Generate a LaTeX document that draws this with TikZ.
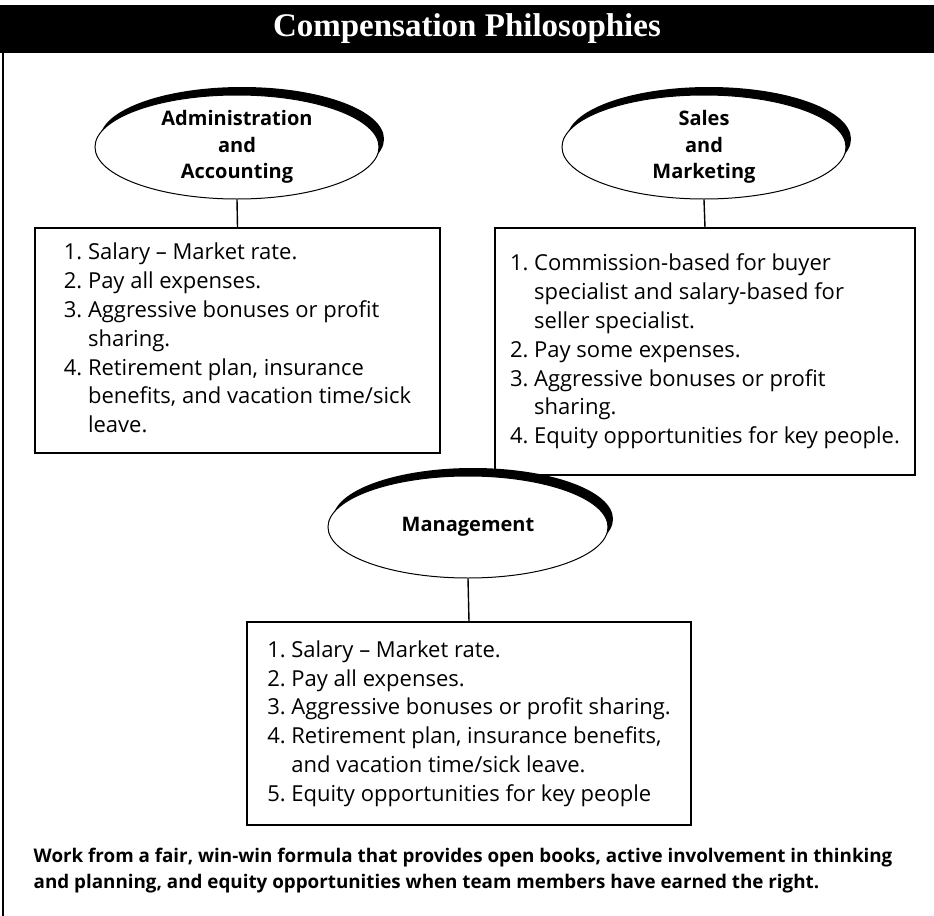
\documentclass[tikz,border=0pt]{standalone}
\usepackage{fontspec}
\setmainfont{Open Sans}
\newfontfamily\titlefont{Liberation Serif}
\usetikzlibrary{positioning, shapes.geometric, shadows}
\tikzset{
  every picture/.style={line width=0.7pt},
  oval/.style={ellipse, draw, line width=0.5pt, fill=white, minimum width=142pt, minimum height=52pt,
    inner sep=0pt, align=center, font=\fontsize{10}{13.3}\selectfont\bfseries,
    drop shadow={shadow xshift=2.5pt, shadow yshift=4pt, fill=black, opacity=1}},
  listbox/.style={draw, line width=0.7pt, inner sep=0pt, font=\fontsize{11}{14.4}\selectfont},
  heading/.style={font=\titlefont\fontsize{16.5}{18}\selectfont\bfseries, text=white},
  note/.style={font=\fontsize{9.4}{13}\selectfont\bfseries, align=left, anchor=base west, inner sep=0pt},
}
\begin{document}
\begin{tikzpicture}[x=0.5pt, y=-0.5pt]
  \useasboundingbox (0,0) rectangle (934,916);
  % header bar and frame
  \fill[black] (0,5) rectangle (934,53);
  \node[heading] (title) at (467,29) {Compensation Philosophies};
  \draw[line width=0.75pt] (3,53) -- (3,916);
  % administration and accounting
  \node[oval] (admin) at (237,147) {Administration\\and\\Accounting};
  \node[listbox, minimum width=202.5pt, minimum height=112.5pt] (adminlist) at (237.5,340.5) {%
    \begin{tabular}{@{}l@{\ }l@{}}
      1. & Salary -- Market rate.\\
      2. & Pay all expenses.\\
      3. & Aggressive bonuses or profit\\
         & sharing.\\
      4. & Retirement plan, insurance\\
         & benefits, and vacation time/sick\\
         & leave.
    \end{tabular}};
  \draw (admin.south) -- (adminlist.north);
  % sales and marketing
  \node[oval] (sales) at (704,147) {Sales\\and\\Marketing};
  \node[listbox, minimum width=210pt, minimum height=123.5pt] (saleslist) at (705,351.5) {%
    \begin{tabular}{@{}l@{\ }l@{}}
      1. & Commission-based for buyer\\
         & specialist and salary-based for\\
         & seller specialist.\\
      2. & Pay some expenses.\\
      3. & Aggressive bonuses or profit\\
         & sharing.\\
      4. & Equity opportunities for key people.
    \end{tabular}};
  \draw (sales.south) -- (saleslist.north);
  % management
  \node[oval, minimum width=140pt, minimum height=51pt] (mgmt) at (468,527) {Management};
  \node[listbox, minimum width=222pt, minimum height=101.5pt] (mgmtlist) at (469,723.5) {%
    \begin{tabular}{@{}l@{\ }l@{}}
      1. & Salary -- Market rate.\\
      2. & Pay all expenses.\\
      3. & Aggressive bonuses or profit sharing.\\
      4. & Retirement plan, insurance benefits,\\
         & and vacation time/sick leave.\\
      5. & Equity opportunities for key people
    \end{tabular}};
  \draw (mgmt.south) -- (mgmtlist.north);
  % closing remark
  \node[note] (remark) at (33,888) {Work from a fair, win-win formula that provides open books, active involvement in thinking\\
    and planning, and equity opportunities when team members have earned the right.};
\end{tikzpicture}
\end{document}
